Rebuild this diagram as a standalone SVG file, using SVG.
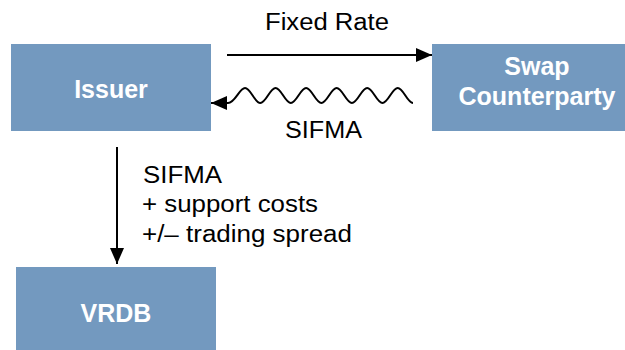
<svg xmlns="http://www.w3.org/2000/svg" width="625" height="350" viewBox="0 0 625 350">
<defs>
<style>
.box{fill:#7399bf;}
.lbl{font-family:"Liberation Sans",Arial,sans-serif;font-weight:bold;font-size:25px;fill:#ffffff;text-anchor:middle;}
.txt{font-family:"Liberation Sans",Arial,sans-serif;font-size:23px;fill:#000000;}
.con{fill:none;stroke:#000000;stroke-width:2;}
</style>
<marker id="ah" markerUnits="userSpaceOnUse" markerWidth="16" markerHeight="14" refX="16" refY="7" orient="auto">
<path d="M0,0 L16,7 L0,14 z" fill="#000000"/>
</marker>
</defs>
<rect width="625" height="350" fill="#ffffff"/>
<g id="issuer">
<rect class="box" x="11" y="44" width="200" height="87"/>
<text class="lbl" x="111" y="98">Issuer</text>
</g>
<g id="swap-counterparty">
<rect class="box" x="432" y="44" width="210" height="87"/>
<text class="lbl" x="537" y="75">Swap</text>
<text class="lbl" x="537" y="105">Counterparty</text>
</g>
<g id="vrdb">
<rect class="box" x="16" y="267" width="200" height="90"/>
<text class="lbl" x="116" y="322">VRDB</text>
</g>
<g id="connectors">
<path class="con" d="M227,55 L432,55" marker-end="url(#ah)"/>
<path class="con" stroke-width="1.8" d="M413,103 c-5.56,0 -9.71,-15 -15.27,-15 s-9.71,15 -15.27,15 s-9.71,-15 -15.27,-15 s-9.71,15 -15.27,15 s-9.71,-15 -15.27,-15 s-9.71,15 -15.27,15 s-9.71,-15 -15.27,-15 s-9.71,15 -15.27,15 s-9.71,-15 -15.27,-15 s-9.71,15 -15.27,15 s-9.71,-15 -15.27,-15 s-10,15 -17,15 L211,103" marker-end="url(#ah)"/>
<path class="con" d="M117,147 L117,264" marker-end="url(#ah)"/>
</g>
<g id="labels">
<text class="txt" x="265" y="30" textLength="124" lengthAdjust="spacingAndGlyphs">Fixed Rate</text>
<text class="txt" x="285" y="138" textLength="77" lengthAdjust="spacingAndGlyphs">SIFMA</text>
<text class="txt" x="143" y="183" textLength="79" lengthAdjust="spacingAndGlyphs">SIFMA</text>
<text class="txt" x="142" y="212" textLength="176" lengthAdjust="spacingAndGlyphs">+ support costs</text>
<text class="txt" x="142" y="242" textLength="210" lengthAdjust="spacingAndGlyphs">+/– trading spread</text>
</g>
</svg>
